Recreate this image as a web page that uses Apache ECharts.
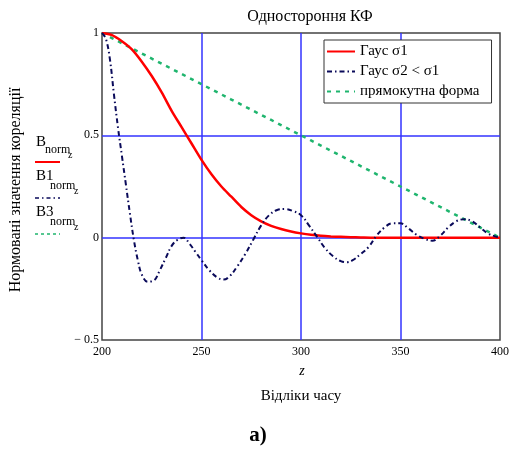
<!DOCTYPE html>
<html>
<head>
<meta charset="utf-8">
<script src="https://cdn.jsdelivr.net/npm/echarts@6/dist/echarts.min.js"></script>
<style>
  html, body { margin: 0; padding: 0; background: #fff; }
  #chart { width: 512px; height: 451px; }
</style>
</head>
<body>
<div id="chart"></div>
<script>
  // відліки часу z для гауса sigma1 та прямокутної форми
  var zGrid = [200, 205, 210, 215, 220, 225, 230, 235, 240, 245, 250, 255, 260, 265, 270, 275, 280,
    285, 290, 295, 300, 305, 310, 315, 320, 325, 330, 335, 340, 345, 350, 355, 360, 365, 370, 375,
    380, 385, 390, 395, 400];
  var gaussWide = [1, 0.99, 0.96, 0.92, 0.86, 0.79, 0.71, 0.62, 0.54, 0.46, 0.38, 0.31, 0.25, 0.2,
    0.15, 0.11, 0.08, 0.058, 0.042, 0.03, 0.021, 0.014, 0.009, 0.006, 0.004, 0.002, 0.001, 0, 0,
    0, 0, 0, 0, 0, 0, 0, 0, 0, 0, 0, 0];
  var rectForm = [1, 0.975, 0.95, 0.925, 0.9, 0.875, 0.85, 0.825, 0.8, 0.775, 0.75, 0.725, 0.7,
    0.675, 0.65, 0.625, 0.6, 0.575, 0.55, 0.525, 0.5, 0.475, 0.45, 0.425, 0.4, 0.375, 0.35, 0.325,
    0.3, 0.275, 0.25, 0.225, 0.2, 0.175, 0.15, 0.125, 0.1, 0.075, 0.05, 0.025, 0];
  // гаус sigma2 < sigma1
  var zNarrow = [200, 202, 204, 206, 208, 210, 212, 214, 216, 218, 220, 223, 226, 229, 232, 235, 238,
    241, 244, 247, 250, 254, 258, 261, 264, 268, 272, 276, 280, 284, 288, 292, 296, 300, 304, 308,
    312, 316, 320, 323, 326, 330, 334, 338, 342, 346, 350, 354, 358, 362, 366, 370, 374, 378, 382,
    386, 390, 394, 398, 400];
  var gaussNarrow = [1, 0.97, 0.87, 0.7, 0.54, 0.4, 0.26, 0.12, -0.01, -0.11, -0.18, -0.215, -0.21,
    -0.16, -0.1, -0.04, -0.01, 0, -0.03, -0.07, -0.11, -0.16, -0.195, -0.205, -0.19, -0.14, -0.08,
    -0.01, 0.06, 0.11, 0.135, 0.14, 0.13, 0.11, 0.06, 0.005, -0.05, -0.09, -0.115, -0.12, -0.11,
    -0.08, -0.045, 0.01, 0.05, 0.07, 0.07, 0.045, 0.015, -0.005, -0.015, 0.01, 0.05, 0.08, 0.09,
    0.08, 0.05, 0.02, 0.005, 0];
  var seriesNames = ['Гаус σ1', 'Гаус σ2 < σ1', 'прямокутна форма'];

  var serif = 'Liberation Serif';
  var red = '#ff0000', navy = '#0a0a5a', green = '#1fb56e', gridBlue = '#3333ff';

  function pairs(xs, ys) {
    return xs.map(function (x, i) { return [x, ys[i]]; });
  }

  function label(x, y, text, size) {
    return {
      type: 'text', x: x, y: y,
      style: { text: text, font: size + 'px "Liberation Serif"', fill: '#000', verticalAlign: 'bottom' }
    };
  }

  var chart = echarts.init(document.getElementById('chart'));
  chart.setOption({
    backgroundColor: '#fff',
    animation: false,
    title: {
      text: 'Одностороння КФ',
      left: 305, top: 4, textAlign: 'center',
      textStyle: { fontFamily: serif, fontSize: 16, fontWeight: 'normal', color: '#000' }
    },
    grid: {
      left: 102, right: 12, top: 33, bottom: 111,
      show: true, borderColor: '#444', borderWidth: 1.5, backgroundColor: '#fff'
    },
    legend: {
      orient: 'vertical',
      left: 324, top: 40,
      backgroundColor: '#fff',
      borderColor: '#333', borderWidth: 1,
      padding: [4, 12, 4, 2],
      itemGap: 5,
      itemWidth: 28, itemHeight: 14,
      itemStyle: { opacity: 0 },
      textStyle: { fontFamily: serif, fontSize: 15, color: '#000' },
      data: seriesNames
    },
    xAxis: {
      type: 'value', min: 200, max: 400, interval: 50,
      axisLine: { show: false },
      axisTick: { show: false },
      splitLine: { show: true, showMinLine: false, showMaxLine: false, lineStyle: { color: gridBlue, width: 1.5 } },
      axisLabel: { fontFamily: serif, fontSize: 12, color: '#000', margin: 6 }
    },
    yAxis: {
      type: 'value', min: -0.5, max: 1, interval: 0.5,
      axisLine: { show: false },
      axisTick: { show: false },
      splitLine: { show: true, showMinLine: false, showMaxLine: false, lineStyle: { color: gridBlue, width: 1.5 } },
      axisLabel: {
        fontFamily: serif, fontSize: 12, color: '#000', margin: 3,
        formatter: function (v) { return v < 0 ? '\u2212 ' + Math.abs(v) : String(v); }
      }
    },
    series: [
      {
        name: seriesNames[0], type: 'line', showSymbol: false, symbol: 'none', smooth: 0.3,
        lineStyle: { color: red, width: 2.5 }, itemStyle: { color: red },
        data: pairs(zGrid, gaussWide), z: 3
      },
      {
        name: seriesNames[1], type: 'line', showSymbol: false, symbol: 'none', smooth: 0.4,
        lineStyle: { color: navy, width: 2, type: [5, 3, 1.5, 3] }, itemStyle: { color: navy },
        data: pairs(zNarrow, gaussNarrow), z: 4
      },
      {
        name: seriesNames[2], type: 'line', showSymbol: false, symbol: 'none',
        lineStyle: { color: green, width: 2.5, type: [4, 5] }, itemStyle: { color: green },
        data: pairs(zGrid, rectForm), z: 2
      }
    ],
    graphic: [
      {
        type: 'text', x: 16, y: 190, rotation: Math.PI / 2,
        style: { text: 'Нормовані значення кореляції', font: '16px "Liberation Serif"', fill: '#000',
          align: 'center', verticalAlign: 'middle' }
      },
      label(36, 150, 'B', 15), label(45, 156, 'norm', 12), label(68, 160, 'z', 10),
      { type: 'line', shape: { x1: 35, y1: 162, x2: 60, y2: 162 }, style: { stroke: red, lineWidth: 2 } },
      label(36, 184, 'B1', 15), label(50, 192, 'norm', 12), label(74, 196, 'z', 10),
      { type: 'line', shape: { x1: 35, y1: 198, x2: 60, y2: 198 }, style: { stroke: navy, lineWidth: 1.5, lineDash: [4, 3, 1.5, 3] } },
      label(36, 220, 'B3', 15), label(50, 228, 'norm', 12), label(74, 232, 'z', 10),
      { type: 'line', shape: { x1: 35, y1: 234, x2: 60, y2: 234 }, style: { stroke: green, lineWidth: 1.5, lineDash: [3, 3] } },
      {
        type: 'text', x: 302, y: 371,
        style: { text: 'z', font: 'italic 14px "Liberation Serif"', fill: '#000', align: 'center', verticalAlign: 'middle' }
      },
      {
        type: 'text', x: 301, y: 396,
        style: { text: 'Відліки часу', font: '15px "Liberation Serif"', fill: '#000', align: 'center', verticalAlign: 'middle' }
      },
      {
        type: 'text', x: 258, y: 436,
        style: { text: 'а)', font: 'bold 21px "Liberation Serif"', fill: '#000', align: 'center', verticalAlign: 'middle' }
      }
    ]
  });
</script>
</body>
</html>
